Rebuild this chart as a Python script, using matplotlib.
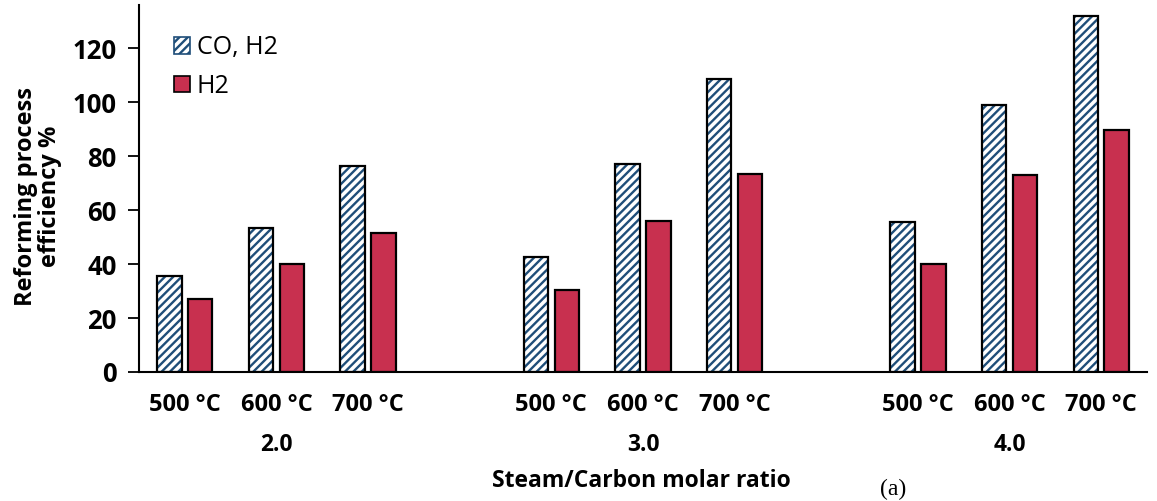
import numpy as np
import matplotlib.pyplot as plt
import matplotlib.transforms as mtransforms
from matplotlib.patches import Patch

# data
ratios = ['2.0', '3.0', '4.0']
temps = ['500 °C', '600 °C', '700 °C']
co_h2 = [35.5, 53.5, 76.5, 42.5, 77.0, 108.5, 55.5, 99.0, 132.0]
h2 = [27.0, 40.0, 51.5, 30.5, 56.0, 73.5, 40.0, 73.0, 89.5]

blue = '#1F4E79'
red = '#C8304F'

plt.rcParams['font.family'] = ['Open Sans', 'DejaVu Sans']
plt.rcParams['hatch.linewidth'] = 1.7

fig = plt.figure(figsize=(11.57, 5.01), dpi=100)
ax = fig.add_axes([139/1157, 1-372/501, 1008/1157, 367/501])

# one empty slot between ratio groups
x = np.array([g*4 + k for g in range(3) for k in range(3)], dtype=float)
w = 0.267
off = 0.168

ax.bar(x - off, co_h2, w, color='white', edgecolor=blue, hatch='////', linewidth=0)
ax.bar(x - off, co_h2, w, fill=False, edgecolor='black', linewidth=1.6)
ax.bar(x + off, h2, w, color=red, edgecolor='black', linewidth=1.6)

ax.set_xlim(-0.5, 10.5)
ax.set_ylim(0, 136)
ax.set_yticks(range(0, 121, 20))
ax.set_xticks(x)
ax.set_xticklabels(temps * 3)
for s in ['top', 'right']:
    ax.spines[s].set_visible(False)
for s in ['left', 'bottom']:
    ax.spines[s].set_linewidth(1.5)
ax.tick_params(axis='x', length=0, pad=15, labelsize=17)
ax.tick_params(axis='y', length=8, width=1.3, pad=8, labelsize=18.5)
for lbl in ax.get_xticklabels() + ax.get_yticklabels():
    lbl.set_fontweight('bold')

trans = mtransforms.blended_transform_factory(ax.transData, ax.transAxes)
for g, r in enumerate(ratios):
    ax.text(g*4 + 1, -0.2, r, transform=trans, ha='center', va='center',
            fontsize=16.5, fontweight='bold')

fig.text(641/1157, 1-481/501, 'Steam/Carbon molar ratio', ha='center', va='center',
         fontsize=16.5, fontweight='bold')
fig.text(893/1157, 1-489/501, '(a)', ha='center', va='center', fontsize=17,
         family='Liberation Serif')
fig.text(38/1157, 1-196/501, 'Reforming process\nefficiency %', ha='center', va='center',
         rotation=90, fontsize=17, fontweight='bold', linespacing=1.0)

handles = [Patch(facecolor='white', edgecolor=blue, hatch='////', label='CO, H2'),
           Patch(facecolor=red, edgecolor='black', label='H2')]
leg = ax.legend(handles=handles, loc='upper left', bbox_to_anchor=(0.025, 0.945),
                frameon=False, fontsize=18, handlelength=0.65, handleheight=0.65,
                handletextpad=0.25, labelspacing=0.55, borderaxespad=0)
for p in leg.get_patches():
    p.set_linewidth(1.2)

fig.savefig('out.png', dpi=100)
